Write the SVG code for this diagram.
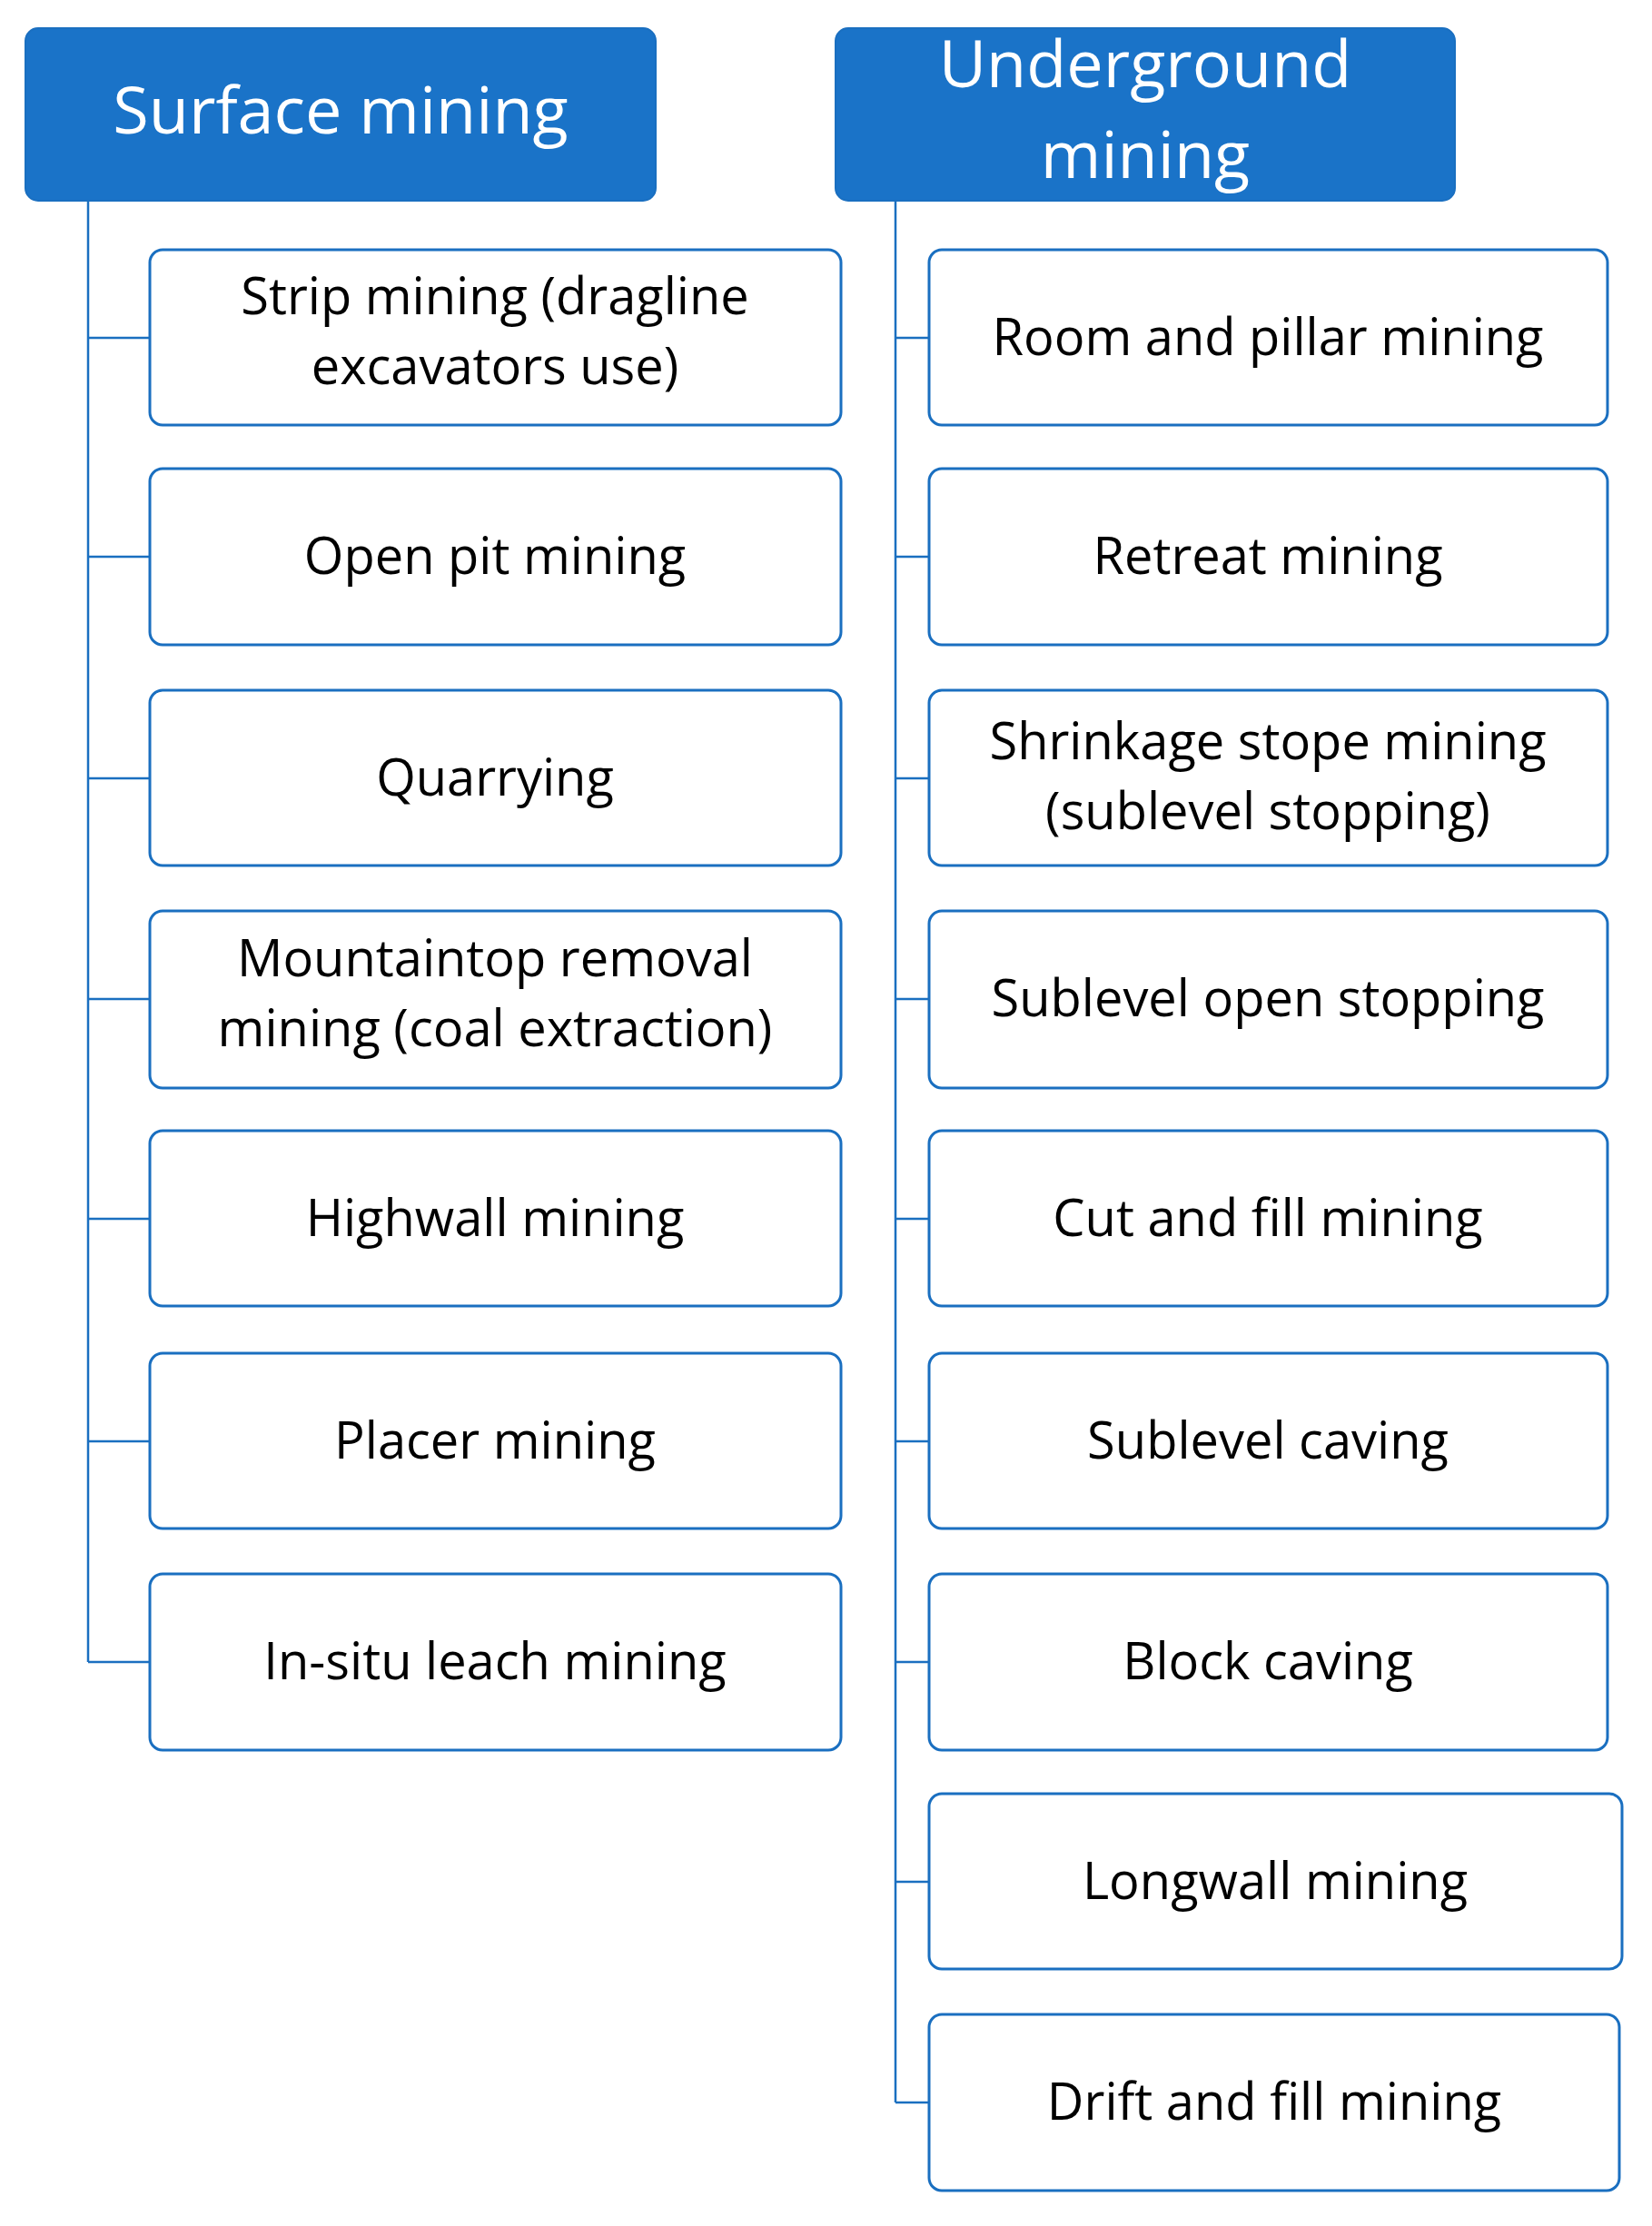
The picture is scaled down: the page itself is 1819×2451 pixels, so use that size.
<svg xmlns="http://www.w3.org/2000/svg" width="1819" height="2451" viewBox="0 0 1819 2451">
<style>
.h{fill:#1a73c8;stroke:#1a6fc0;stroke-width:2}
.b{fill:#fff;stroke:#1a6fc0;stroke-width:3}
.c{stroke:#1a6fc0;stroke-width:2.5;fill:none}
.ht{font-family:"Open Sans","Noto Sans",sans-serif;font-size:72px;fill:#fff;text-anchor:middle}
.t{font-family:"Open Sans","Noto Sans",sans-serif;font-size:56px;fill:#000;text-anchor:middle}
</style>
<rect width="1819" height="2451" fill="#fff"/>
<g id="connectors">
<path class="c" d="M97 221V1830M986 221V2315"/>
<path class="c" d="M97 372H165M97 613H165M97 857H165M97 1100H165M97 1342H165M97 1587H165M97 1830H165"/>
<path class="c" d="M986 372H1023M986 613H1023M986 857H1023M986 1100H1023M986 1342H1023M986 1587H1023M986 1830H1023M986 2072H1023M986 2315H1023"/>
</g>
<g id="surface"><rect class="h" x="28" y="31" width="694" height="190" rx="14"/><text class="ht" x="375" y="147">Surface mining</text></g>
<g id="underground"><rect class="h" x="920" y="31" width="682" height="190" rx="14"/><text class="ht" x="1261" y="96">Underground</text><text class="ht" x="1261" y="196">mining</text></g>
<g id="s1"><rect class="b" x="165" y="275" width="761" height="193" rx="14"/><text class="t" x="545" y="346">Strip mining (dragline</text><text class="t" x="545" y="423">excavators use)</text></g>
<g id="s2"><rect class="b" x="165" y="516" width="761" height="194" rx="14"/><text class="t" x="545" y="632">Open pit mining</text></g>
<g id="s3"><rect class="b" x="165" y="760" width="761" height="193" rx="14"/><text class="t" x="545" y="876">Quarrying</text></g>
<g id="s4"><rect class="b" x="165" y="1003" width="761" height="195" rx="14"/><text class="t" x="545" y="1075">Mountaintop removal</text><text class="t" x="545" y="1152">mining (coal extraction)</text></g>
<g id="s5"><rect class="b" x="165" y="1245" width="761" height="193" rx="14"/><text class="t" x="545" y="1361">Highwall mining</text></g>
<g id="s6"><rect class="b" x="165" y="1490" width="761" height="193" rx="14"/><text class="t" x="545" y="1606">Placer mining</text></g>
<g id="s7"><rect class="b" x="165" y="1733" width="761" height="194" rx="14"/><text class="t" x="545" y="1849">In-situ leach mining</text></g>
<g id="u1"><rect class="b" x="1023" y="275" width="747" height="193" rx="14"/><text class="t" x="1396" y="391">Room and pillar mining</text></g>
<g id="u2"><rect class="b" x="1023" y="516" width="747" height="194" rx="14"/><text class="t" x="1396" y="632">Retreat mining</text></g>
<g id="u3"><rect class="b" x="1023" y="760" width="747" height="193" rx="14"/><text class="t" x="1396" y="836">Shrinkage stope mining</text><text class="t" x="1396" y="913">(sublevel stopping)</text></g>
<g id="u4"><rect class="b" x="1023" y="1003" width="747" height="195" rx="14"/><text class="t" x="1396" y="1119">Sublevel open stopping</text></g>
<g id="u5"><rect class="b" x="1023" y="1245" width="747" height="193" rx="14"/><text class="t" x="1396" y="1361">Cut and fill mining</text></g>
<g id="u6"><rect class="b" x="1023" y="1490" width="747" height="193" rx="14"/><text class="t" x="1396" y="1606">Sublevel caving</text></g>
<g id="u7"><rect class="b" x="1023" y="1733" width="747" height="194" rx="14"/><text class="t" x="1396" y="1849">Block caving</text></g>
<g id="u8"><rect class="b" x="1023" y="1975" width="763" height="193" rx="14"/><text class="t" x="1404" y="2091">Longwall mining</text></g>
<g id="u9"><rect class="b" x="1023" y="2218" width="760" height="194" rx="14"/><text class="t" x="1403" y="2334">Drift and fill mining</text></g>
</svg>
